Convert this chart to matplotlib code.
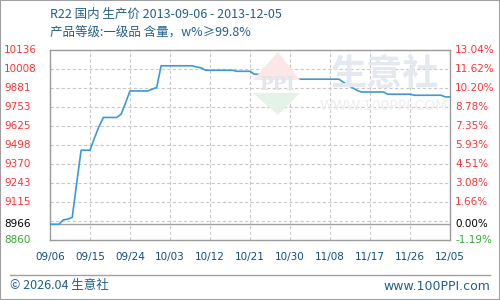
import matplotlib
matplotlib.use('Agg')
import matplotlib.pyplot as plt
import matplotlib.transforms as mtransforms
from matplotlib.patches import Polygon, Rectangle

plt.rcParams['font.family'] = ['DejaVu Sans', 'Noto Sans CJK SC']

# daily price, 2013-09-06 .. 2013-12-05 (day 0 .. 90)
prices = [8966, 8966, 8966, 8995, 9000, 9012, 9240, 9463, 9463, 9463,
          9545, 9620, 9683, 9683, 9683, 9683, 9705, 9781, 9861, 9861,
          9861, 9861, 9861, 9873, 9884, 10030, 10030, 10030, 10030, 10030,
          10030, 10030, 10030, 10022, 10016, 10000, 10000, 10000, 10000, 10000,
          10000, 10000, 9993, 9993, 9993, 9993, 9973, 9973, 9973, 9973,
          9973, 9973, 9940, 9940, 9940, 9940, 9940, 9940, 9940, 9940,
          9940, 9940, 9940, 9940, 9940, 9940, 9920, 9900, 9884, 9866,
          9854, 9854, 9854, 9854, 9854, 9854, 9839, 9839, 9839, 9839,
          9839, 9839, 9832, 9832, 9832, 9832, 9832, 9832, 9832, 9821,
          9821]
days = list(range(len(prices)))

x_ticks = [0, 9, 18, 27, 36, 45, 54, 63, 72, 81, 90]
x_labels = ['09/06', '09/15', '09/24', '10/03', '10/12', '10/21',
            '10/30', '11/08', '11/17', '11/26', '12/05']

y_left = ['10136', '10008', '9881', '9753', '9625', '9498', '9370', '9243', '9115']
y_right = ['13.04%', '11.62%', '10.20%', '8.78%', '7.35%', '5.93%', '4.51%', '3.08%', '1.66%']
y_vals = [10136, 10008, 9881, 9753, 9625, 9498, 9370, 9243, 9115]
base = 8966
y_min = 8860

title1 = 'R22 国内 生产价 2013-09-06 - 2013-12-05'
title2 = '产品等级:一级品 含量，w%≥99.8%'

fig = plt.figure(figsize=(5, 3), dpi=100)
fig.patch.set_facecolor('white')

ax = fig.add_axes([50 / 500, 60 / 300, 400 / 500, 190 / 300])
ax.set_xlim(0, 90)
ax.set_ylim(y_min, 10136)

# grid
for v in y_vals[1:] + [9115 - 127]:
    ax.axhline(v, color='#c8c8c8', lw=0.8, ls=(0, (3, 2)), zorder=1)
for d in x_ticks[1:-1]:
    ax.axvline(d, color='#c8c8c8', lw=0.8, ls=(0, (3, 2)), zorder=1)
ax.axhline(base, color='#a0a0a0', lw=1.0, zorder=2)

# watermark
wm = fig.transFigure
fig.text(385 / 500, 1 - 75 / 300, '生意社', fontsize=26, color='#e4e8f0',
         ha='center', va='center', family=['Noto Sans CJK SC'], fontweight='bold', zorder=0)
fig.text(384 / 500, 1 - 106 / 300, 'WWW.100PPI.COM', fontsize=10, color='#eeeeee',
         ha='center', va='center', zorder=0)
fig.patches.append(Polygon([[253 / 500, 1 - 80 / 300], [278 / 500, 1 - 52 / 300], [300 / 500, 1 - 80 / 300]],
                           closed=True, transform=wm, facecolor='#fce6e6', edgecolor='none', zorder=0))
fig.patches.append(Polygon([[253 / 500, 1 - 93 / 300], [300 / 500, 1 - 93 / 300], [278 / 500, 1 - 115 / 300]],
                           closed=True, transform=wm, facecolor='#e4f3e6', edgecolor='none', zorder=0))
fig.text(277 / 500, 1 - 85 / 300, 'PPI', fontsize=13, color='#e0e5ee', ha='center', va='center',
         family=['DejaVu Serif'], fontweight='bold', zorder=0)

ax.set_facecolor('none')
ax.plot(days, prices, color='#3a9ad9', lw=1.2, zorder=3)

for s in ax.spines.values():
    s.set_color('#9a9a9a')
    s.set_linewidth(1.0)
ax.set_xticks([])
ax.set_yticks([])

# axis labels
tr = mtransforms.blended_transform_factory(fig.transFigure, ax.transData)
for v, l, r in zip(y_vals, y_left, y_right):
    ax.text(4 / 500, v, l, transform=tr, color='#ff3333', fontsize=7.5, va='center', ha='left')
    ax.text(455 / 500, v, r, transform=tr, color='#ff3333', fontsize=7.5, va='center', ha='left')
ax.text(4 / 500, base, '8966', transform=tr, color='black', fontsize=7.5, va='center', ha='left')
ax.text(455 / 500, base, '0.00%', transform=tr, color='black', fontsize=7.5, va='center', ha='left')
ax.text(4 / 500, y_min, '8860', transform=tr, color='#33aa33', fontsize=7.5, va='center', ha='left')
ax.text(455 / 500, y_min, '-1.19%', transform=tr, color='#33aa33', fontsize=7.5, va='center', ha='left')

trx = mtransforms.blended_transform_factory(ax.transData, fig.transFigure)
for d, l in zip(x_ticks, x_labels):
    ax.text(d, 1 - 257 / 300, l, transform=trx, color='#0f4c81', fontsize=7.5, va='center', ha='center')

# titles
fig.text(50 / 500, 1 - 14 / 300, title1, color='#1f5f8b', fontsize=9, va='center', ha='left',
         family=['Noto Sans CJK SC', 'DejaVu Sans'])
fig.text(50 / 500, 1 - 33 / 300, title2, color='#1f5f8b', fontsize=9, va='center', ha='left',
         family=['Noto Sans CJK SC', 'DejaVu Sans'])

# footer
fig.add_artist(plt.Line2D([10 / 500, 490 / 500], [1 - 275 / 300, 1 - 275 / 300], color='#a0a0a0', lw=1.0))
fig.text(10 / 500, 1 - 286 / 300, '© 2026.04 生意社', color='#1f5f8b', fontsize=9, va='center', ha='left',
         family=['Noto Sans CJK SC', 'DejaVu Sans'])
fig.text(490 / 500, 1 - 286 / 300, 'www.100PPI.com', color='#1f5f8b', fontsize=9, va='center', ha='right')

# outer border
fig.patches.append(Rectangle((0, 0), 1, 1, transform=wm, fill=False, edgecolor='#a0a0a0', lw=1.5))

fig.savefig('out.png', dpi=100)
